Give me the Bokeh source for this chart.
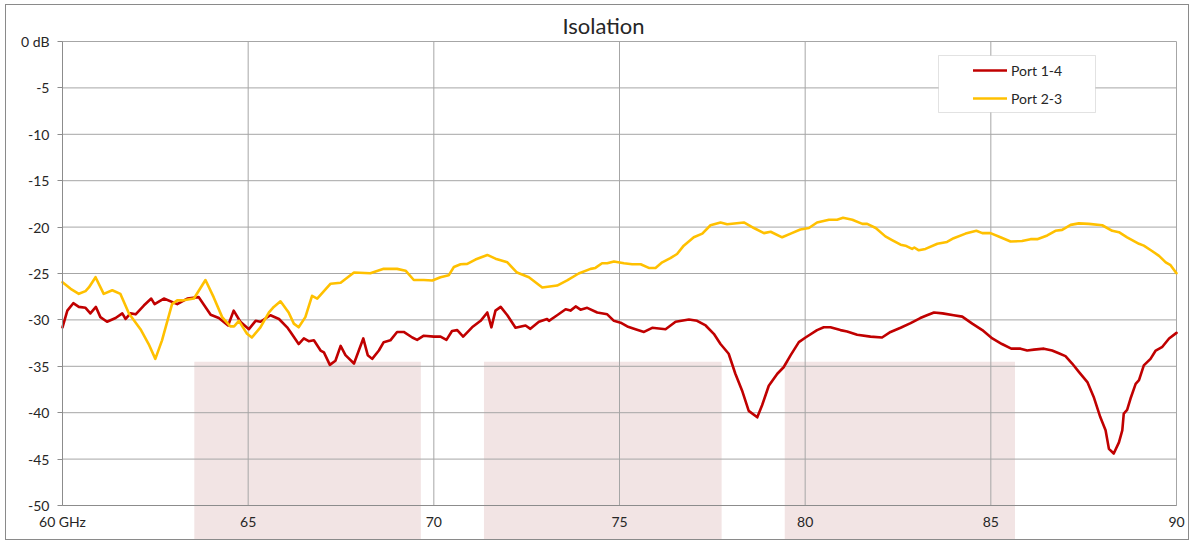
from bokeh.plotting import figure
from bokeh.models import (ColumnDataSource, BoxAnnotation, Legend, LegendItem,
                          FixedTicker, Range1d, LinearAxis)
from bokeh.embed import file_html
from bokeh.resources import INLINE

# ---------------- data ----------------
freq_14 = [60.0, 60.13, 60.29, 60.44, 60.62, 60.75, 60.9, 61.02, 61.2, 61.43, 61.61, 61.7, 61.83,
           61.97, 62.19, 62.39, 62.48, 62.73, 63.09, 63.36, 63.67, 63.99, 64.21, 64.46, 64.61,
           64.79, 65.02, 65.2, 65.33, 65.6, 65.83, 66.05, 66.14, 66.36, 66.5, 66.63, 66.77, 66.95,
           67.04, 67.2, 67.35, 67.49, 67.62, 67.85, 67.98, 68.1, 68.22, 68.34, 68.52, 68.65, 68.83,
           69.01, 69.19, 69.42, 69.55, 69.73, 70.0, 70.18, 70.34, 70.49, 70.63, 70.79, 71.03,
           71.26, 71.44, 71.55, 71.66, 71.8, 71.98, 72.2, 72.47, 72.6, 72.83, 73.05, 73.1, 73.32,
           73.55, 73.68, 73.82, 73.95, 74.13, 74.4, 74.67, 74.85, 75.03, 75.21, 75.43, 75.66,
           75.88, 76.24, 76.51, 76.87, 77.09, 77.32, 77.54, 77.72, 77.94, 78.12, 78.3, 78.48,
           78.71, 78.84, 79.02, 79.25, 79.42, 79.61, 79.83, 80.01, 80.32, 80.5, 80.68, 80.95,
           81.13, 81.4, 81.76, 82.07, 82.3, 82.57, 82.84, 83.1, 83.28, 83.47, 83.7, 84.0, 84.23,
           84.5, 84.77, 85.04, 85.3, 85.55, 85.8, 85.98, 86.16, 86.43, 86.65, 86.83, 87.01,
           87.19, 87.37, 87.6, 87.77, 87.95, 88.09, 88.18, 88.31, 88.45, 88.54, 88.58, 88.67,
           88.76, 88.9, 88.99, 89.12, 89.3, 89.44, 89.62, 89.8, 90.0]
port_14 = [-30.8, -29.0, -28.2, -28.6, -28.7, -29.3, -28.6, -29.7, -30.2, -29.8, -29.3, -29.9, -29.3,
           -29.4, -28.45, -27.7, -28.3, -27.7, -28.3, -27.7, -27.55, -29.45, -29.8, -30.6, -29.0,
           -30.2, -31.0, -30.1, -30.2, -29.5, -29.9, -30.8, -31.3, -32.6, -32.0, -32.3, -32.2, -33.3,
           -33.5, -34.85, -34.4, -32.8, -33.8, -34.7, -33.3, -32.0, -33.8, -34.2, -33.3, -32.4, -32.2,
           -31.3, -31.3, -31.9, -32.15, -31.7, -31.8, -31.8, -32.15, -31.2, -31.1, -31.8, -30.8,
           -30.1, -29.2, -30.8, -29.0, -28.6, -29.5, -30.85, -30.6, -30.96, -30.2, -29.9, -30.1, -29.5,
           -28.85, -29.0, -28.55, -28.9, -28.7, -29.2, -29.4, -30.1, -30.3, -30.7, -31.0, -31.3,
           -30.85, -31.0, -30.2, -29.96, -30.1, -30.6, -31.5, -32.6, -33.65, -35.8, -37.6, -39.8,
           -40.5, -39.2, -37.1, -35.8, -35.1, -33.8, -32.4, -31.9, -31.1, -30.8, -30.8, -31.1,
           -31.25, -31.6, -31.8, -31.9, -31.3, -30.85, -30.35, -29.8, -29.5, -29.2, -29.3, -29.5, -29.65,
           -30.4, -31.1, -32.0, -32.6, -33.1, -33.1, -33.3, -33.2, -33.1, -33.3, -33.6, -33.9,
           -34.7, -35.6, -36.7, -38.3, -40.5, -41.9, -43.9, -44.4, -43.2, -41.9, -40.1, -39.7,
           -38.5, -36.9, -36.5, -34.9, -34.2, -33.3, -32.9, -32.0, -31.4]

freq_23 = [60.0, 60.22, 60.44, 60.62, 60.71, 60.89, 61.11, 61.34, 61.56, 61.79, 62.1, 62.32, 62.5,
           62.68, 62.95, 63.09, 63.22, 63.54, 63.85, 64.07, 64.3, 64.52, 64.62, 64.75, 64.97, 65.1,
           65.33, 65.56, 65.69, 65.87, 66.09, 66.23, 66.36, 66.54, 66.72, 66.86, 67.22, 67.49,
           67.85, 68.29, 68.65, 69.01, 69.24, 69.46, 69.73, 69.96, 70.18, 70.4, 70.54, 70.72,
           70.9, 71.12, 71.44, 71.66, 71.98, 72.24, 72.56, 72.92, 73.32, 73.59, 73.9, 74.22,
           74.35, 74.53, 74.67, 74.85, 75.12, 75.34, 75.57, 75.79, 75.97, 76.15, 76.37, 76.55,
           76.73, 77.0, 77.23, 77.45, 77.72, 77.9, 78.35, 78.62, 78.89, 79.07, 79.38, 79.61,
           79.87, 80.1, 80.32, 80.64, 80.86, 81.02, 81.27, 81.54, 81.67, 81.9, 82.16, 82.34,
           82.57, 82.7, 82.88, 82.94, 83.06, 83.24, 83.56, 83.82, 84.0, 84.32, 84.61, 84.77,
           84.99, 85.26, 85.53, 85.84, 86.07, 86.25, 86.52, 86.74, 86.92, 87.15, 87.37, 87.64,
           88.0, 88.27, 88.45, 88.67, 88.99, 89.12, 89.35, 89.53, 89.71, 89.84, 90.0]
port_23 = [-25.94, -26.65, -27.19, -26.9, -26.5, -25.4, -27.2, -26.8, -27.2, -29.3, -31.0, -32.6, -34.2,
           -32.2, -28.3, -27.9, -27.9, -27.7, -25.7, -27.55, -29.7, -30.7, -30.7, -30.1, -31.5, -31.9,
           -30.8, -29.2, -28.6, -28.0, -29.2, -30.4, -30.8, -29.7, -27.4, -27.7, -26.1, -26.0,
           -24.9, -24.97, -24.5, -24.5, -24.7, -25.7, -25.7, -25.75, -25.4, -25.2, -24.3, -24.0,
           -23.96, -23.5, -23.0, -23.4, -23.8, -24.9, -25.4, -26.5, -26.3, -25.75, -25.0, -24.5,
           -24.4, -23.9, -23.9, -23.7, -23.9, -24.0, -24.0, -24.4, -24.4, -23.8, -23.35, -22.9,
           -22.0, -21.1, -20.7, -19.8, -19.5, -19.7, -19.5, -20.1, -20.65, -20.5, -21.1, -20.7,
           -20.26, -20.1, -19.5, -19.2, -19.2, -19.0, -19.2, -19.65, -19.65, -20.1, -21.0, -21.4,
           -21.9, -22.0, -22.35, -22.2, -22.5, -22.35, -21.8, -21.6, -21.2, -20.7, -20.4, -20.65,
           -20.65, -21.1, -21.55, -21.5, -21.3, -21.3, -20.9, -20.4, -20.3, -19.76, -19.6, -19.65,
           -19.8, -20.4, -20.55, -21.1, -21.8, -22.0, -22.6, -23.1, -23.8, -24.1, -24.97]

bands = [(63.55, 69.65), (71.35, 77.75), (79.45, 85.65)]
band_top = -34.5

x_ticks = [60, 65, 70, 75, 80, 85, 90]
x_labels = ["60 GHz", "65", "70", "75", "80", "85", "90"]
y_ticks = [0, -5, -10, -15, -20, -25, -30, -35, -40, -45, -50]
y_labels = ["0 dB", "-5", "-10", "-15", "-20", "-25", "-30", "-35", "-40", "-45", "-50"]

series_names = ["Port 1-4", "Port 2-3"]
series_colors = ["#C00000", "#FFC000"]

# ---------------- styling / layout ----------------
FONT = "Lato"
GRID = "#a6a6a6"
AXIS = "#8c8c8c"
TXT = "#262626"
PINK = "#f2e4e4"

# page position of the canvas (left/top margin + 1px css border)
OX, OY = 6, 5
W, H = 1184, 536
# page positions of the axis box (60..90 GHz, 0..-50 dB) and of the drawing frame
AX_L, AX_R, AX_T, AX_B = 62, 1176, 41, 505
FR_L, FR_R, FR_T, FR_B = 30, 1189, 40, 540
Y_LABEL_RIGHT = 49  # page x where the y tick labels end

x_min, x_max = min(x_ticks), max(x_ticks)
y_min, y_max = min(y_ticks), max(y_ticks)
px_x = (AX_R - AX_L) / (x_max - x_min)
px_y = (AX_B - AX_T) / (y_max - y_min)

p = figure(width=W, height=H, output_backend="svg", toolbar_location=None,
           x_range=Range1d(x_min - (AX_L - FR_L) / px_x, x_max + (FR_R - AX_R) / px_x),
           y_range=Range1d(y_min - (FR_B - AX_B) / px_y, y_max + (AX_T - FR_T) / px_y),
           min_border_left=FR_L - OX, min_border_right=W - (FR_R - OX),
           min_border_top=FR_T - OY, min_border_bottom=H - (FR_B - OY),
           background_fill_color="white", border_fill_color="white",
           margin=(OY - 1, 0, 0, OX - 1))
p.styles = {"border": "1px solid #8a8a8a"}

p.title.text = "Isolation"
p.title.align = "left"
p.title.offset = 562 - FR_L
p.title.standoff = 3
p.title.text_font = FONT
p.title.text_font_size = "22px"
p.title.text_font_style = "normal"
p.title.text_color = TXT

p.outline_line_color = None
p.grid.visible = False

# shaded bands, running from band_top down to the chart border
for lo, hi in bands:
    p.add_layout(BoxAnnotation(left=lo, right=hi, top=band_top, bottom=p.y_range.start,
                               fill_color=PINK, fill_alpha=1.0, line_color=None,
                               level="image", editable=False))

# grid lines (limited to the axis box)
p.segment(x0=x_ticks, y0=[y_min] * len(x_ticks), x1=x_ticks, y1=[y_max] * len(x_ticks),
          line_color=GRID, line_width=1)
p.segment(x0=[x_min] * len(y_ticks), y0=y_ticks, x1=[x_max] * len(y_ticks), y1=y_ticks,
          line_color=GRID, line_width=1)

# y tick labels: panel axis (labels only)
ylab = p.yaxis[0]
ylab.ticker = FixedTicker(ticks=y_ticks)
ylab.major_label_overrides = dict(zip(y_ticks, y_labels))
ylab.axis_line_color = None
ylab.major_tick_line_color = None
ylab.minor_tick_line_color = None
ylab.major_tick_out = 0
ylab.major_tick_in = 0
ylab.major_label_standoff = FR_L - Y_LABEL_RIGHT
ylab.major_label_text_font = FONT
ylab.major_label_text_font_size = "14px"
ylab.major_label_text_color = TXT

# y axis line + ticks at 60 GHz
yax = LinearAxis(fixed_location=x_min, bounds=(y_min, y_max),
                 ticker=FixedTicker(ticks=y_ticks),
                 major_label_overrides={t: "" for t in y_ticks},
                 axis_line_color=AXIS, major_tick_line_color=AXIS,
                 minor_tick_line_color=None, major_tick_out=5, major_tick_in=0)
p.add_layout(yax, "left")

# x axis at -50 dB
xax = p.xaxis[0]
xax.fixed_location = y_min
xax.bounds = (x_min, x_max)
xax.ticker = FixedTicker(ticks=x_ticks)
xax.major_label_overrides = dict(zip(x_ticks, x_labels))
xax.axis_line_color = AXIS
xax.major_tick_line_color = None
xax.minor_tick_line_color = None
xax.major_tick_out = 0
xax.major_tick_in = 0
xax.major_label_standoff = 7
xax.major_label_text_font = FONT
xax.major_label_text_font_size = "14px"
xax.major_label_text_color = TXT

# data lines
src14 = ColumnDataSource(dict(f=freq_14, db=port_14))
src23 = ColumnDataSource(dict(f=freq_23, db=port_23))
r1 = p.line("f", "db", source=src14, line_color=series_colors[0], line_width=2.6,
            line_join="round", line_cap="round")
r2 = p.line("f", "db", source=src23, line_color=series_colors[1], line_width=2.6,
            line_join="round", line_cap="round")

# legend frame + legend (screen units are relative to the frame's bottom-left)
p.add_layout(BoxAnnotation(left=938 - FR_L, right=1095 - FR_L,
                           top=FR_B - 55, bottom=FR_B - 112,
                           left_units="screen", right_units="screen",
                           top_units="screen", bottom_units="screen",
                           fill_color="white", fill_alpha=1.0, line_color="#a0a0a0",
                           line_width=1, level="annotation", editable=False))
legend = Legend(items=[LegendItem(label=series_names[0], renderers=[r1]),
                       LegendItem(label=series_names[1], renderers=[r2])],
                location=(973 - FR_L, FR_B - 108), margin=0, padding=5, spacing=8,
                glyph_width=34, glyph_height=20, label_height=20, label_standoff=4,
                label_text_font=FONT, label_text_font_size="14px", label_text_color=TXT,
                border_line_color=None, background_fill_alpha=0)
p.add_layout(legend)

open("out.html", "w").write(file_html(p, INLINE))
